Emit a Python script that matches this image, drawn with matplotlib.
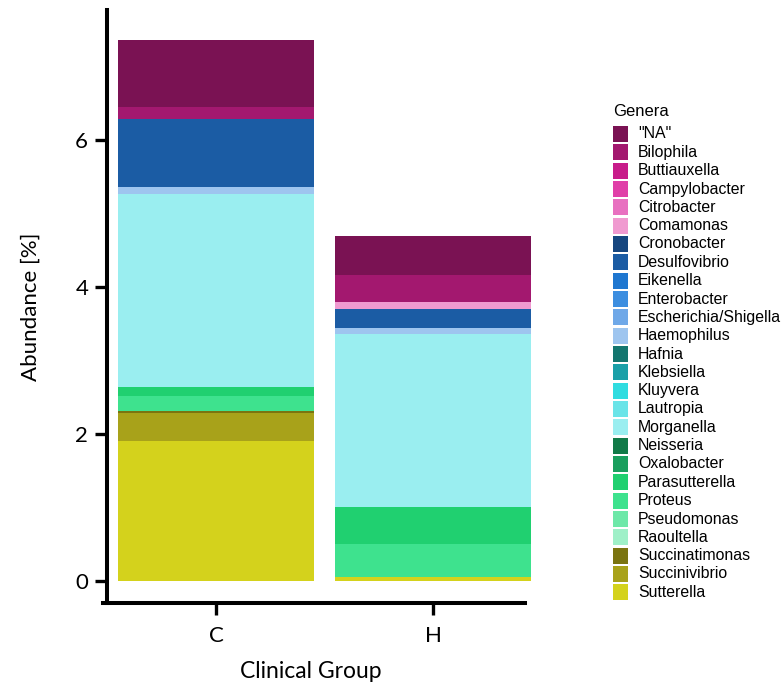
import matplotlib
matplotlib.use("Agg")
import matplotlib.pyplot as plt
from matplotlib.patches import Rectangle

# Genera in legend order, with their fill colours
genera = ['"NA"', "Bilophila", "Buttiauxella", "Campylobacter", "Citrobacter",
          "Comamonas", "Cronobacter", "Desulfovibrio", "Eikenella", "Enterobacter",
          "Escherichia/Shigella", "Haemophilus", "Hafnia", "Klebsiella", "Kluyvera",
          "Lautropia", "Morganella", "Neisseria", "Oxalobacter", "Parasutterella",
          "Proteus", "Pseudomonas", "Raoultella", "Succinatimonas", "Succinivibrio",
          "Sutterella"]
colors = ["#7a1253", "#a3186f", "#c81c8a", "#e03fa8", "#e870c0",
          "#f09ad0", "#16467f", "#1b5ca4", "#1f77d0", "#3c8ee0",
          "#6fa8e8", "#9ec5ef", "#13766f", "#1aa0a8", "#30dce0",
          "#6ae4e8", "#9aeef0", "#117a48", "#1a9f5e", "#20d070",
          "#3ee28e", "#6de8a8", "#9ff0c8", "#7a7410", "#a8a21a",
          "#d4d21c"]

groups = ["C", "H"]

# Mean relative abundance (%) per genus and clinical group
abund_C = {'"NA"': 0.91, "Bilophila": 0.16, "Desulfovibrio": 0.925,
           "Haemophilus": 0.09, "Morganella": 2.63, "Parasutterella": 0.12,
           "Proteus": 0.205, "Succinatimonas": 0.035, "Succinivibrio": 0.37,
           "Sutterella": 1.91}
abund_H = {'"NA"': 0.54, "Bilophila": 0.36, "Comamonas": 0.095,
           "Desulfovibrio": 0.26, "Haemophilus": 0.09, "Morganella": 2.35,
           "Parasutterella": 0.50, "Proteus": 0.445, "Sutterella": 0.06}

fig = plt.figure(figsize=(7.84, 6.84), dpi=100)
ax = fig.add_axes([107 / 784, 1 - 603 / 684, 434.5 / 784, 593 / 684])

axis_font = "Lato"
xpos = [0, 1]
for x, data in zip(xpos, [abund_C, abund_H]):
    bottom = 0.0
    # stack from the last genus (bottom) up to the first (top)
    for g, col in reversed(list(zip(genera, colors))):
        v = data.get(g, 0.0)
        if v > 0:
            ax.bar(x, v, bottom=bottom, width=0.9, color=col, linewidth=0)
            bottom += v

ax.set_xlim(-0.502, 1.5)
ax.set_ylim(-0.30, 7.77)
ax.set_yticks([0, 2, 4, 6])
ax.set_xticks(xpos)
ax.set_xticklabels(groups)

for s in ["top", "right"]:
    ax.spines[s].set_visible(False)
for s in ["left", "bottom"]:
    ax.spines[s].set_linewidth(2.9)
ax.spines["bottom"].set_bounds(-0.52, 1.424)

ax.tick_params(axis="both", width=2.4, length=8.5, labelsize=16, pad=5)
ax.tick_params(axis="x", pad=8)
for lab in ax.get_xticklabels() + ax.get_yticklabels():
    lab.set_fontfamily(axis_font)

ax.set_ylabel("Abundance [%]", fontsize=16, family=axis_font)
ax.set_xlabel("Clinical Group", fontsize=16.5, family=axis_font)
ax.yaxis.set_label_coords(-0.153, 0.50)
ax.xaxis.set_label_coords(0.468, -0.097)

# Legend drawn as a column of swatches in figure pixel coordinates
W, H = 784, 684
fig.text(613 / W, 1 - 112 / H, "Genera", fontsize=12, family="Liberation Sans",
         va="center", ha="left")
step = (574 - 134) / 24
for i, (g, col) in enumerate(zip(genera, colors)):
    yc = 134 + i * step
    fig.add_artist(Rectangle((613 / W, 1 - (yc + 8) / H), 15 / W, 16 / H,
                             transform=fig.transFigure, color=col, lw=0))
    fig.text(638 / W, 1 - yc / H, g, fontsize=11.4, family="Liberation Sans",
             va="center", ha="left")

fig.savefig("out.png", dpi=100)
